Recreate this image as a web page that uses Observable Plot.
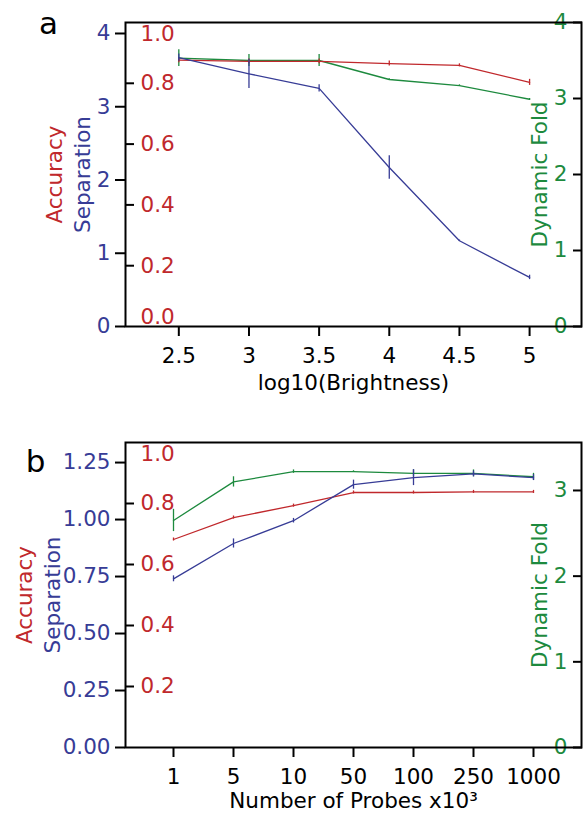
<!DOCTYPE html>
<html><head><meta charset="utf-8">
<script src="https://cdn.jsdelivr.net/npm/d3@7"></script>
<script src="https://cdn.jsdelivr.net/npm/@observablehq/plot@0.6"></script>
<style>
body{margin:0;background:#fff;font-family:"DejaVu Sans",sans-serif;}
.panel{position:relative;width:583px;}
.panel svg{position:absolute;left:0;top:0;overflow:visible;background:transparent;}
</style></head><body>
<div id="pa" class="panel" style="height:400px"></div>
<div id="pb" class="panel" style="height:415px"></div>
<script>
// ---- Panel a data ----
const brightness = [2.5, 3, 3.5, 4, 4.5, 5];
const sepA    = [3.67, 3.45, 3.25, 2.17, 1.17, 0.67];
const sepAErr = [0.05, 0.20, 0.05, 0.16, 0.01, 0.03];
const accA    = [0.876, 0.872, 0.872, 0.865, 0.859, 0.803];
const accAErr = [0.008, 0.008, 0.008, 0.008, 0.005, 0.01];
const dynA    = [3.53, 3.50, 3.50, 3.25, 3.17, 2.99];
const dynAErr = [0.11, 0.08, 0.08, 0.01, 0.01, 0.01];

// ---- Panel b data ----
const probes  = ["1", "5", "10", "50", "100", "250", "1000"];
const sepB    = [0.74, 0.895, 0.995, 1.153, 1.184, 1.20, 1.184];
const sepBErr = [0.013, 0.02, 0.01, 0.02, 0.035, 0.013, 0.013];
const accB    = [0.682, 0.754, 0.793, 0.836, 0.836, 0.838, 0.838];
const accBErr = [0.005, 0.005, 0.005, 0.005, 0.005, 0.005, 0.005];
const dynB    = [2.65, 3.10, 3.22, 3.22, 3.20, 3.20, 3.16];
const dynBErr = [0.13, 0.06, 0.02, 0.01, 0.04, 0.04, 0.04];

// tick values
const sepATicks = [0, 1, 2, 3, 4];
const sepBTicks = [0, 0.25, 0.5, 0.75, 1.0, 1.25];
const accMidTicks = [0.2, 0.4, 0.6, 0.8];
const dynATicks = [0, 1, 2, 3, 4];
const dynBTicks = [0, 1, 2, 3];

const BLUE = "#373c96", RED = "#c0282c", GREEN = "#1d8a3e";
const FS = 21.5;
const W = 583;

function rows(xs, ys, es) {
  return xs.map((x, i) => ({x, y: ys[i], lo: ys[i] - es[i], hi: ys[i] + es[i]}));
}

function layer(el, cfg, marks) {
  const svg = Plot.plot({
    width: W, height: cfg.height, marginTop: cfg.mt, marginBottom: cfg.mb,
    marginLeft: 125, marginRight: 2,
    x: cfg.x, y: cfg.y,
    style: {fontFamily: "DejaVu Sans", fontSize: FS + "px", background: "transparent", overflow: "visible"},
    marks
  });
  el.appendChild(svg);
}

function series(data, color) {
  return [
    Plot.line(data, {x: "x", y: "y", stroke: color, strokeWidth: 1.3}),
    Plot.ruleX(data, {x: "x", y1: "lo", y2: "hi", stroke: color, strokeWidth: 1.3})
  ];
}

function panel(el, o) {
  const base = {height: o.height, mt: o.mt, mb: o.mb};
  const xNoAxis = Object.assign({}, o.x, {axis: null});
  // green layer (Dynamic Fold)
  layer(el, Object.assign({}, base, {x: xNoAxis, y: {domain: o.dynDomain}}), [
    ...series(o.dyn, GREEN),
    Plot.axisY(o.dynTicks, {anchor: "right", tickSize: -9, tickPadding: -5, textAnchor: "end",
      stroke: "black", strokeWidth: 2, fill: GREEN, fontSize: FS, tickFormat: d => String(d), label: null}),
    Plot.text(["Dynamic Fold"], {frameAnchor: "right", dx: -41, rotate: -90, fill: GREEN,
      fontSize: FS, textAnchor: "middle", lineAnchor: "middle"})
  ]);
  // red layer (Accuracy)
  const redMarks = [
    ...series(o.acc, RED),
    Plot.axisY(accMidTicks, {anchor: "left", tickSize: -9, tickPadding: -6, textAnchor: "start",
      stroke: "black", strokeWidth: 2, fill: RED, fontSize: FS, tickFormat: ".1f", label: null}),
    Plot.axisY([1.0], {anchor: "left", tickSize: 0, tickPadding: -15, textAnchor: "start", dy: 12,
      fill: RED, fontSize: FS, tickFormat: ".1f", label: null}),
    Plot.text(["Accuracy"], {frameAnchor: "left", dx: o.accDx, rotate: -90, fill: RED,
      fontSize: FS, textAnchor: "middle", lineAnchor: "middle"})
  ];
  if (o.showZero) {
    redMarks.push(Plot.axisY([0.0], {anchor: "left", tickSize: 0, tickPadding: -15, textAnchor: "start", dy: -9,
      fill: RED, fontSize: FS, tickFormat: ".1f", label: null}));
  }
  layer(el, Object.assign({}, base, {x: xNoAxis, y: {domain: [0, 1]}}), redMarks);
  // blue layer (Separation) + frame + x axis
  layer(el, Object.assign({}, base, {x: o.x, y: {domain: o.sepDomain}}), [
    ...series(o.sep, BLUE),
    Plot.frame({stroke: "black", strokeWidth: 2}),
    Plot.axisY(o.sepTicks, {anchor: "left", tickSize: 10, tickPadding: 5,
      stroke: "black", strokeWidth: 2, fill: BLUE, fontSize: FS, tickFormat: o.sepFormat, label: null}),
    Plot.axisX(o.xTicks, {anchor: "bottom", tickSize: 10, tickPadding: 11,
      stroke: "black", strokeWidth: 2, fill: "black", fontSize: FS, tickFormat: d => String(d), label: null}),
    Plot.text(["Separation"], {frameAnchor: "left", dx: o.sepDx, rotate: -90, fill: BLUE,
      fontSize: FS, textAnchor: "middle", lineAnchor: "middle"}),
    Plot.text([o.xLabel], {frameAnchor: "bottom", dy: o.xLabelDy, fill: "black",
      fontSize: FS, textAnchor: "middle", lineAnchor: "middle"}),
    Plot.text([o.tag], {frameAnchor: "top-left", dx: o.tagDx, dy: o.tagDy, fill: "black",
      fontSize: 31, textAnchor: "middle", lineAnchor: "middle"})
  ]);
}

panel(document.getElementById("pa"), {
  height: 400, mt: 22, mb: 74,
  x: {type: "linear", domain: [2.12, 5.37]},
  xTicks: brightness,
  sep: rows(brightness, sepA, sepAErr),
  acc: rows(brightness, accA, accAErr),
  dyn: rows(brightness, dynA, dynAErr),
  sepDomain: [0, 4.15], dynDomain: [0, 4.0],
  sepTicks: sepATicks, dynTicks: dynATicks, sepFormat: d => String(d),
  showZero: true,
  accDx: -70, sepDx: -42,
  xLabel: "log10(Brightness)", xLabelDy: 57,
  tag: "a", tagDx: -77, tagDy: 2
});

panel(document.getElementById("pb"), {
  height: 415, mt: 42, mb: 68,
  x: {type: "point", domain: probes, padding: 0.74},
  xTicks: probes,
  sep: rows(probes, sepB, sepBErr),
  acc: rows(probes, accB, accBErr),
  dyn: rows(probes, dynB, dynBErr),
  sepDomain: [0, 1.338], dynDomain: [0, 3.56],
  sepTicks: sepBTicks, dynTicks: dynBTicks, sepFormat: ".2f",
  showZero: false,
  accDx: -100, sepDx: -72,
  xLabel: "Number of Probes x10³", xLabelDy: 54,
  tag: "b", tagDx: -90, tagDy: 20
});
</script>
</body></html>
